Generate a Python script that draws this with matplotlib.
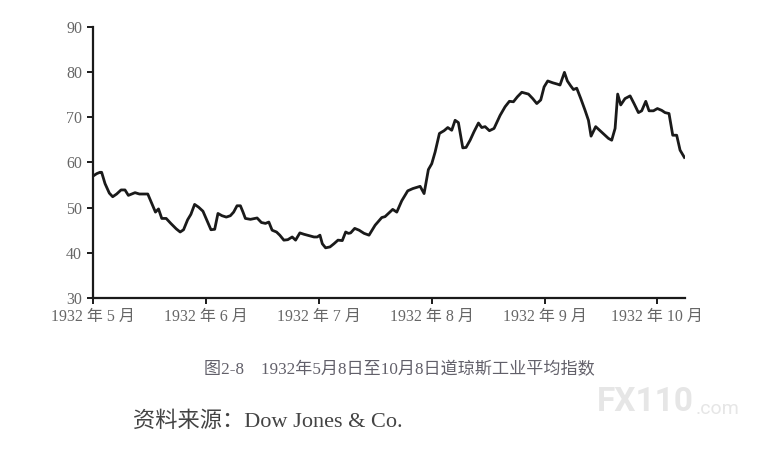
import matplotlib
matplotlib.use("Agg")
from matplotlib import pyplot as plt

# 道琼斯工业平均指数 1932-05 ~ 1932-10 (x: 从5月起的月数)
month_pos = [0.000, 0.030, 0.059, 0.074, 0.104, 0.142, 0.172, 0.207, 0.246, 0.281,
             0.311, 0.370, 0.409, 0.483, 0.519, 0.551, 0.578, 0.607, 0.646, 0.687,
             0.735, 0.770, 0.800, 0.836, 0.865, 0.898, 0.933, 0.972, 1.007, 1.043,
             1.076, 1.105, 1.141, 1.179, 1.215, 1.244, 1.274, 1.304, 1.327, 1.348,
             1.393, 1.452, 1.490, 1.526, 1.556, 1.585, 1.624, 1.653, 1.689, 1.724,
             1.763, 1.793, 1.831, 1.867, 1.911, 1.956, 1.985, 2.009, 2.030, 2.059,
             2.098, 2.133, 2.169, 2.207, 2.237, 2.261, 2.281, 2.317, 2.356, 2.400,
             2.444, 2.498, 2.557, 2.586, 2.616, 2.654, 2.690, 2.734, 2.787, 2.832,
             2.897, 2.932, 2.970, 3.000, 3.030, 3.068, 3.109, 3.142, 3.177, 3.207,
             3.236, 3.275, 3.304, 3.340, 3.375, 3.414, 3.443, 3.473, 3.511, 3.552,
             3.606, 3.650, 3.688, 3.724, 3.759, 3.798, 3.857, 3.895, 3.931, 3.966,
             3.996, 4.028, 4.072, 4.114, 4.137, 4.176, 4.202, 4.232, 4.256, 4.285,
             4.321, 4.359, 4.389, 4.412, 4.453, 4.492, 4.536, 4.566, 4.595, 4.625,
             4.648, 4.675, 4.713, 4.758, 4.793, 4.832, 4.861, 4.897, 4.926, 4.965,
             5.000, 5.038, 5.068, 5.103, 5.136, 5.171, 5.201, 5.239]
djia = [57.0, 57.5, 57.8, 57.8, 55.3, 53.2, 52.4, 53.0, 53.9, 53.9,
        52.7, 53.3, 53.0, 53.0, 50.9, 49.0, 49.7, 47.6, 47.6, 46.5,
        45.3, 44.6, 45.1, 47.3, 48.5, 50.7, 50.1, 49.2, 47.2, 45.1,
        45.2, 48.7, 48.2, 47.9, 48.2, 49.0, 50.4, 50.4, 49.0, 47.6,
        47.4, 47.7, 46.7, 46.5, 46.8, 45.0, 44.6, 43.9, 42.8, 42.9,
        43.5, 42.8, 44.4, 44.1, 43.8, 43.5, 43.5, 43.9, 42.0, 41.1,
        41.3, 42.0, 42.8, 42.7, 44.6, 44.3, 44.4, 45.4, 45.0, 44.3,
        43.9, 46.1, 47.8, 48.0, 48.7, 49.6, 49.0, 51.5, 53.7, 54.2,
        54.7, 53.1, 58.4, 59.7, 62.3, 66.4, 67.0, 67.7, 67.1, 69.3,
        68.8, 63.2, 63.3, 64.9, 66.8, 68.7, 67.7, 67.9, 67.0, 67.5,
        70.4, 72.3, 73.5, 73.4, 74.5, 75.5, 75.1, 74.1, 73.0, 73.8,
        76.7, 78.0, 77.6, 77.3, 77.1, 79.9, 78.0, 76.9, 76.1, 76.4,
        74.1, 71.5, 69.3, 65.8, 67.9, 67.0, 66.0, 65.3, 64.9, 67.5,
        75.1, 72.7, 74.1, 74.7, 73.0, 71.0, 71.4, 73.5, 71.4, 71.4,
        71.9, 71.5, 71.0, 70.8, 66.0, 66.0, 62.7, 61.1]

tick_pos = [0, 1, 2, 3, 4, 5]
tick_labels = ["1932 年 5 月", "1932 年 6 月", "1932 年 7 月",
               "1932 年 8 月", "1932 年 9 月", "1932 年 10 月"]
y_ticks = [30, 40, 50, 60, 70, 80, 90]

fonts = ["Liberation Serif", "Noto Sans CJK SC", "DejaVu Sans"]
plt.rcParams["font.family"] = fonts

fig = plt.figure(figsize=(7.82, 4.58), dpi=100)
ax = fig.add_axes([0.1193, 0.3493, 0.7567, 0.5924])

ax.plot(month_pos, djia, color="#1a1a1a", lw=2.0, solid_joinstyle="round")

ax.set_xlim(0, 5.245)
ax.set_ylim(30, 90)
ax.set_xticks(tick_pos)
ax.set_xticklabels(tick_labels)
ax.set_yticks(y_ticks)

for s in ["top", "right"]:
    ax.spines[s].set_visible(False)
for s in ["left", "bottom"]:
    ax.spines[s].set_linewidth(1.6)
    ax.spines[s].set_color("#1a1a1a")

ax.tick_params(axis="both", direction="out", length=4, width=1.4,
               color="#1a1a1a", labelcolor="#666666", labelsize=11.5)
ax.tick_params(axis="x", pad=4)
ax.tick_params(axis="y", pad=4)

# 图题
fig.text(399.5 / 782, 1 - 370 / 458, "图2-8    1932年5月8日至10月8日道琼斯工业平均指数",
         ha="center", va="center", fontsize=12.3, color="#62606a")

# 资料来源
fig.text(133 / 782, 1 - 422 / 458, "资料来源：Dow Jones & Co.",
         ha="left", va="center", fontsize=16, color="#444444")

# 水印
fig.text(597 / 782, 1 - 402 / 458, "FX110", ha="left", va="center",
         fontsize=24, fontweight="bold", color="#e6e6e6", family="Roboto")
fig.text(696 / 782, 1 - 409 / 458, ".com", ha="left", va="center",
         fontsize=14, color="#e6e6e6", family="Roboto")

plt.savefig("out.png", dpi=100)
